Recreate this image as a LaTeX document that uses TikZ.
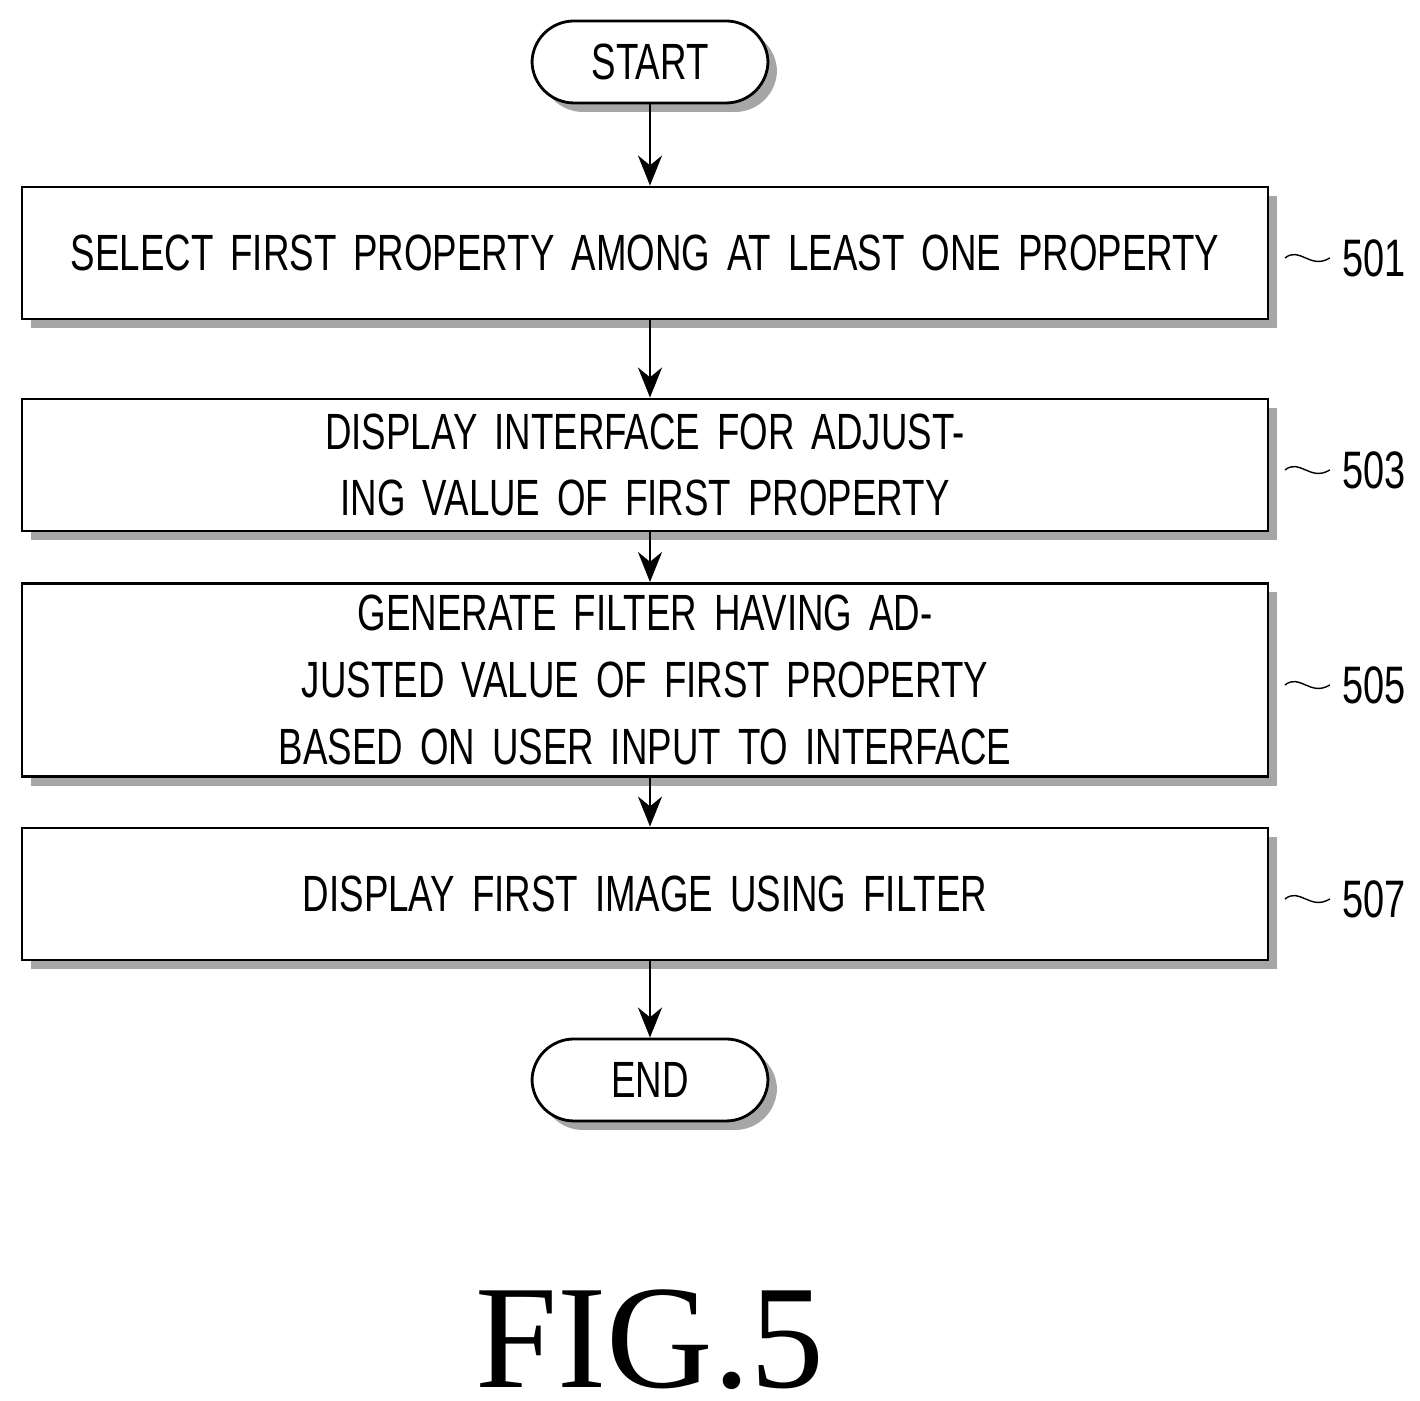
\documentclass[tikz,border=0pt]{standalone}
\usepackage{fontspec}
\setmainfont{Liberation Sans}[FakeStretch=0.72]
\newfontfamily\figfont{Liberation Serif}
\usetikzlibrary{positioning,shadows,arrows.meta}
\tikzset{
  stage/.style={draw, thick, fill=white, text width=12.2cm, inner xsep=0.13cm, minimum height=1.32cm,
    align=center, font=\fontsize{14.5}{19}\selectfont,
    drop shadow={shadow xshift=0.09cm, shadow yshift=-0.09cm, fill=gray!70, opacity=1}},
  term/.style={stage, text width=, rounded corners=0.42cm, minimum width=2.36cm, minimum height=0.82cm},
  flow/.style={thick, -{Stealth[length=0.3cm, width=0.24cm]}},
  tag/.style={font=\fontsize{15}{18}\selectfont}
}
\begin{document}
\begin{tikzpicture}[scale=1.0]
      \useasboundingbox (0,0) rectangle (14.2,14.01);
      \node [term]  (start) at ( 6.50, 13.39) {START};
      \node [stage]  (s501) at ( 6.45, 11.48) {SELECT FIRST PROPERTY AMONG AT LEAST ONE PROPERTY};
      \node [stage]  (s503) at ( 6.45,  9.36) {DISPLAY INTERFACE FOR ADJUSTING VALUE OF FIRST PROPERTY};
      \node [stage]  (s505) at ( 6.45,  7.21) {GENERATE FILTER HAVING ADJUSTED VALUE OF FIRST PROPERTY\\BASED ON USER INPUT TO INTERFACE};
      \node [stage]  (s507) at ( 6.45,  5.07) {DISPLAY FIRST IMAGE USING FILTER};
      \node [term]    (end) at ( 6.50,  3.21) {END};
      \draw [flow] (start.south) -- (s501.north -| start.south);
      \draw [flow] (s501.south -| start.south) -- (s503.north -| start.south);
      \draw [flow] (s503.south -| start.south) -- (s505.north -| start.south);
      \draw [flow] (s505.south -| start.south) -- (s507.north -| start.south);
      \draw [flow] (s507.south -| start.south) -- (end);
      \foreach \n/\y in {501/11.43, 503/9.31, 505/7.16, 507/5.02} {
        \node [tag, anchor=east] (t\n) at (14.18, \y) {\n};
        \draw (12.85, \y) .. controls (13.0, \y+0.12) and (13.1, \y-0.12) .. (t\n.west);
      }
      \node [font=\figfont\fontsize{42}{42}\selectfont] (fig) at (6.5, 0.61) {FIG.5};
\end{tikzpicture}
\end{document}
